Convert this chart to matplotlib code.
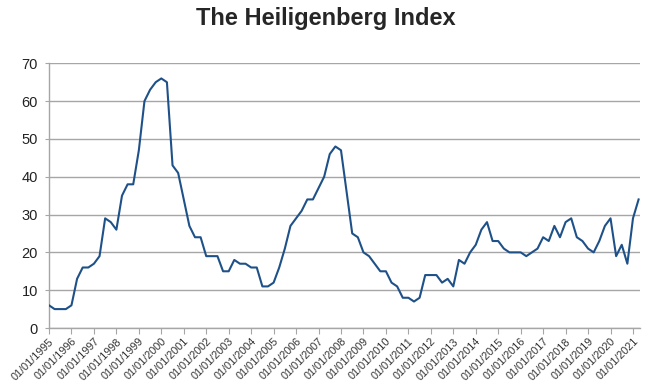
import matplotlib
matplotlib.use("Agg")
import matplotlib.pyplot as plt

plt.rcParams['font.family'] = ['Liberation Sans', 'DejaVu Sans']

years = list(range(1995, 2022))
tick_labels = [f"01/01/{y}" for y in years]

values = [
    6, 5, 5, 5,
    6, 13, 16, 16,
    17, 19, 29, 28,
    26, 35, 38, 38,
    47, 60, 63, 65,
    66, 65, 43, 41,
    34, 27, 24, 24,
    19, 19, 19, 15,
    15, 18, 17, 17,
    16, 16, 11, 11,
    12, 16, 21, 27,
    29, 31, 34, 34,
    37, 40, 46, 48,
    47, 36, 25, 24,
    20, 19, 17, 15,
    15, 12, 11, 8,
    8, 7, 8, 14,
    14, 14, 12, 13,
    11, 18, 17, 20,
    22, 26, 28, 23,
    23, 21, 20, 20,
    20, 19, 20, 21,
    24, 23, 27, 24,
    28, 29, 24, 23,
    21, 20, 23, 27,
    29, 19, 22, 17,
    29, 34,
]

fig = plt.figure(figsize=(6.52, 3.91), dpi=100)
ax = fig.add_axes([49/652, 1-328/391, (640-49)/652, (328-63.3)/391])

x = list(range(len(values)))
ax.plot(x, values, color='#1f5189', linewidth=1.5, zorder=3)

ax.set_ylim(0, 70)
ax.set_yticks(range(0, 71, 10))
ax.set_xlim(0, 105.25)
ax.set_xticks([4*i for i in range(len(years))])
ax.set_xticklabels(tick_labels, rotation=45, ha='right', rotation_mode='anchor',
                   fontsize=7.8, color='#333333')
for lab in ax.get_yticklabels():
    lab.set_fontsize(10.5)
    lab.set_color('#222222')

ax.yaxis.grid(True, color='#a6a6a6', linewidth=1.0)
ax.set_axisbelow(True)
for s in ['top', 'right']:
    ax.spines[s].set_visible(False)
for s in ['left', 'bottom']:
    ax.spines[s].set_color('#a6a6a6')
    ax.spines[s].set_linewidth(1.0)
ax.tick_params(axis='x', direction='out', length=4, color='#a6a6a6', pad=2)
ax.tick_params(axis='y', direction='out', length=3, color='#a6a6a6', pad=5)

fig.text(0.5, 1-19/391, "The Heiligenberg Index", ha='center', va='center',
         fontsize=17, fontweight='bold', color='#262626',
         family=['Liberation Sans Narrow', 'Liberation Sans'])

fig.savefig("out.png", dpi=100)
